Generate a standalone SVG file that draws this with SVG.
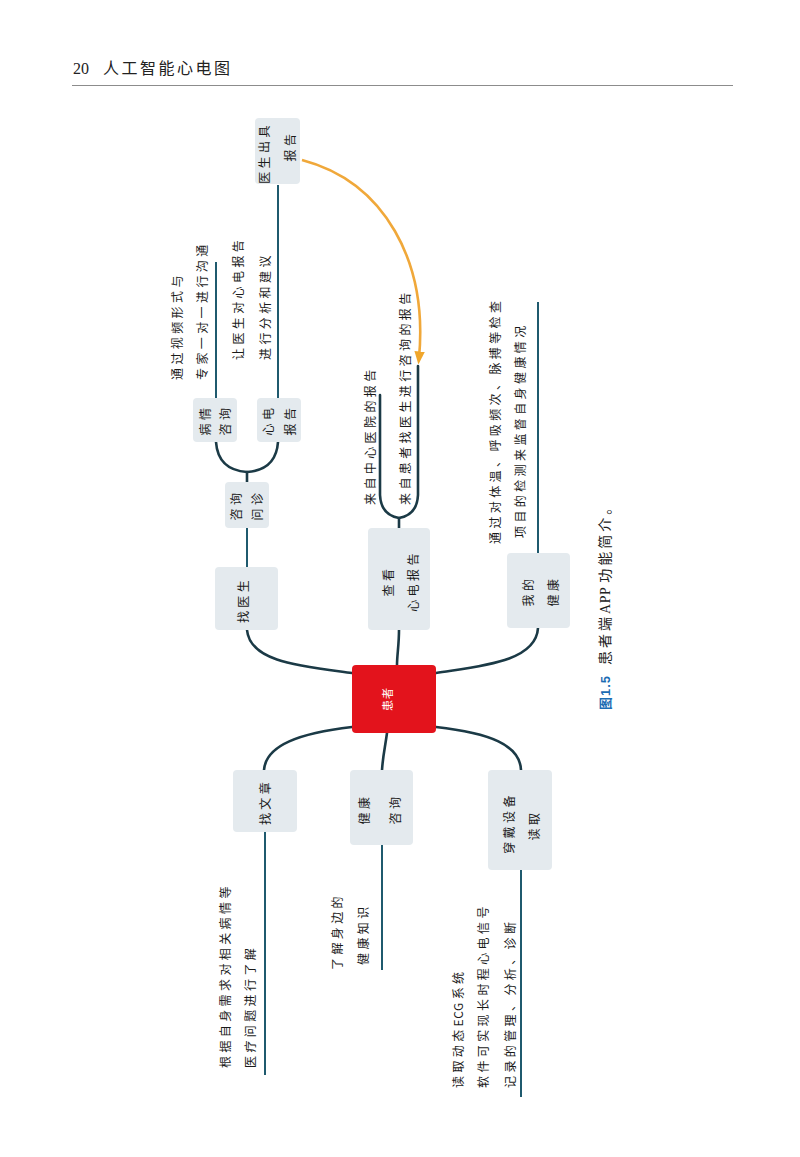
<svg xmlns="http://www.w3.org/2000/svg" width="800" height="1157" viewBox="0 0 800 1157">
<defs>
<style>
.node{fill:#e4eaee;}
.nt{font-family:"Noto Sans CJK SC","Liberation Sans",sans-serif;font-size:12px;fill:#1a1a1a;letter-spacing:3.4px;text-anchor:middle;}
.lt{font-family:"Noto Sans CJK SC","Liberation Sans",sans-serif;font-size:12px;fill:#1a1a1a;letter-spacing:3.4px;text-anchor:start;}
.conn{fill:none;stroke:#1b3a46;stroke-width:2.6;stroke-linecap:round;}
.leaf{fill:none;stroke:#1f5a6e;stroke-width:2;}
.hdr{font-family:"Liberation Serif","Noto Sans CJK SC",serif;font-size:16px;fill:#222;}
</style>
<marker id="arr" viewBox="0 0 10 10" refX="5" refY="5" markerWidth="5" markerHeight="5" orient="auto">
<path d="M0,1 L10,5 L0,9 z" fill="#f0a62c"/>
</marker>
</defs>
<rect width="800" height="1157" fill="#ffffff"/>

<g id="header">
<text class="hdr" x="73" y="74">20</text>
<text class="hdr" x="103" y="74" letter-spacing="2.5" font-family="Noto Sans CJK SC, sans-serif" font-size="16">人工智能心电图</text>
<line x1="72" y1="85.5" x2="733" y2="85.5" stroke="#8c8c8c" stroke-width="1.2"/>
</g>

<g id="connectors">
<path class="conn" d="M247,630 C250,662 300,666 352,673"/>
<path class="conn" d="M399,630 C399,645 397,655 397,665"/>
<path class="conn" d="M538,628 C536,662 480,666 436,673"/>
<path class="conn" d="M352,727 C300,733 266,745 264,770"/>
<path class="conn" d="M387,733 C385,748 383,755 382,770"/>
<path class="conn" d="M436,727 C490,733 520,745 521,770"/>
<path class="leaf" d="M247,528 L247,567"/>
<path class="conn" stroke-width="2" d="M247,482 L247,472"/>
<path class="conn" stroke-width="2" d="M216,442 Q218,470 247,472 Q276,470 278,442"/>
<path class="leaf" d="M216,262 L216,398"/>
<path class="leaf" d="M278,185 L278,398"/>
<path class="conn" stroke-width="2" d="M399,528 L399,518"/>
<path class="conn" stroke-width="2" d="M380,395 L380,495 Q381,515 399,518 Q417,515 418,495 L418,366"/>
<path class="leaf" d="M538,302 L538,553"/>
<path class="leaf" d="M265,832 L265,1075"/>
<path class="leaf" d="M382,845 L382,970"/>
<path class="leaf" d="M521,870 L521,1097"/>
<path d="M302,160 C385,182 428,262 419,358" fill="none" stroke="#f0a83a" stroke-width="2.6" marker-end="url(#arr)"/>
</g>

<g id="n-center">
<rect x="352" y="665" width="84" height="68" rx="4" fill="#e3131c"/>
<text transform="translate(392,699) rotate(-90)" text-anchor="middle" font-family="Noto Sans CJK SC, sans-serif" font-size="11" fill="#ffffff" letter-spacing="1">患者</text>
</g>

<g id="n-doctor">
<rect class="node" x="215" y="567" width="63" height="63" rx="4"/>
<text class="nt" transform="translate(248,600) rotate(-90)">找医生</text>
</g>

<g id="n-consult">
<rect class="node" x="225" y="482" width="44" height="46" rx="4"/>
<text class="nt" transform="translate(241,505) rotate(-90)">咨询</text>
<text class="nt" transform="translate(262,505) rotate(-90)">问诊</text>
</g>

<g id="n-illness">
<rect class="node" x="193" y="398" width="44" height="44" rx="4"/>
<text class="nt" transform="translate(210,420) rotate(-90)">病情</text>
<text class="nt" transform="translate(230,420) rotate(-90)">咨询</text>
</g>

<g id="n-ecgreport">
<rect class="node" x="257" y="398" width="44" height="44" rx="4"/>
<text class="nt" transform="translate(273,420) rotate(-90)">心电</text>
<text class="nt" transform="translate(295,420) rotate(-90)">报告</text>
</g>

<g id="n-docreport">
<rect class="node" x="255" y="118" width="45" height="66" rx="4"/>
<text class="nt" transform="translate(269,153) rotate(-90)">医生出具</text>
<text class="nt" transform="translate(295,146) rotate(-90)">报告</text>
</g>

<g id="n-view">
<rect class="node" x="368" y="528" width="62" height="102" rx="4"/>
<text class="nt" transform="translate(393,581) rotate(-90)">查看</text>
<text class="nt" transform="translate(418,581) rotate(-90)">心电报告</text>
</g>

<g id="n-health">
<rect class="node" x="507" y="553" width="63" height="75" rx="4"/>
<text class="nt" transform="translate(533,591) rotate(-90)">我的</text>
<text class="nt" transform="translate(558,591) rotate(-90)">健康</text>
</g>

<g id="n-article">
<rect class="node" x="233" y="770" width="64" height="62" rx="4"/>
<text class="nt" transform="translate(270,802) rotate(-90)">找文章</text>
</g>

<g id="n-healthconsult">
<rect class="node" x="350" y="770" width="63" height="75" rx="4"/>
<text class="nt" transform="translate(369,809) rotate(-90)">健康</text>
<text class="nt" transform="translate(400,809) rotate(-90)">咨询</text>
</g>

<g id="n-wearable">
<rect class="node" x="488" y="770" width="64" height="100" rx="4"/>
<text class="nt" transform="translate(514,823) rotate(-90)">穿戴设备</text>
<text class="nt" transform="translate(539,825) rotate(-90)">读取</text>
</g>

<g id="leaf-texts">
<text class="lt" transform="translate(182,380) rotate(-90)">通过视频形式与</text>
<text class="lt" transform="translate(207,380) rotate(-90)">专家一对一进行沟通</text>
<text class="lt" transform="translate(243,360) rotate(-90)">让医生对心电报告</text>
<text class="lt" transform="translate(270,360) rotate(-90)">进行分析和建议</text>
<text class="lt" transform="translate(375,505) rotate(-90)">来自中心医院的报告</text>
<text class="lt" transform="translate(410,505) rotate(-90)">来自患者找医生进行咨询的报告</text>
<text class="lt" transform="translate(500,544) rotate(-90)" letter-spacing="2.6">通过对体温、呼吸频次、脉搏等检查</text>
<text class="lt" transform="translate(525,538) rotate(-90)">项目的检测来监督自身健康情况</text>
<text class="lt" transform="translate(230,1068) rotate(-90)">根据自身需求对相关病情等</text>
<text class="lt" transform="translate(255,1068) rotate(-90)">医疗问题进行了解</text>
<text class="lt" transform="translate(342,970) rotate(-90)">了解身边的</text>
<text class="lt" transform="translate(368,965) rotate(-90)">健康知识</text>
<text class="lt" transform="translate(463,1088) rotate(-90)">读取动态<tspan letter-spacing="0.5">ECG</tspan><tspan dx="3">系统</tspan></text>
<text class="lt" transform="translate(488,1088) rotate(-90)" letter-spacing="3">软件可实现长时程心电信号</text>
<text class="lt" transform="translate(515,1088) rotate(-90)" letter-spacing="2">记录的管理、分析、诊断</text>
</g>

<g id="caption">
<text transform="translate(610,710) rotate(-90)" font-size="14"><tspan font-family="Liberation Sans, Noto Sans CJK SC, sans-serif" font-weight="bold" fill="#1b6cb3" font-size="13" letter-spacing="1">图1.5</tspan><tspan dx="10" font-family="Noto Sans CJK SC, sans-serif" fill="#222" letter-spacing="3">患者端</tspan><tspan font-family="Liberation Serif, serif" fill="#222" letter-spacing="0.5">APP</tspan><tspan dx="4" font-family="Noto Sans CJK SC, sans-serif" fill="#222" letter-spacing="3">功能简介。</tspan></text>
</g>
</svg>
